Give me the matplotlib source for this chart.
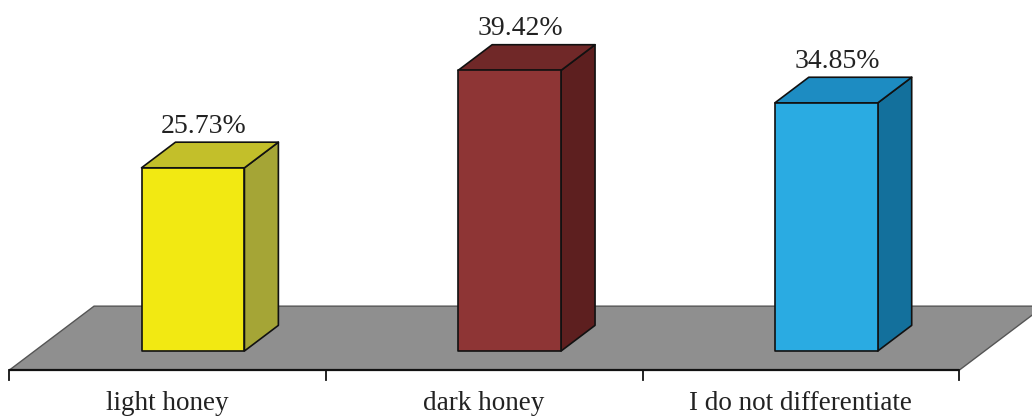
import matplotlib
matplotlib.use("Agg")
import matplotlib.pyplot as plt
from matplotlib.patches import Polygon

categories = ["light honey", "dark honey", "I do not differentiate"]
values = [25.73, 39.42, 34.85]
value_labels = ["25.73%", "39.42%", "34.85%"]

front_colors = ["#F2E912", "#8E3535", "#2AABE2"]
top_colors = ["#C3BF2A", "#702828", "#1D8CC2"]
side_colors = ["#A5A536", "#5D1F1F", "#13709C"]
floor_color = "#8F8F8F"

plt.rcParams["font.family"] = ["Liberation Serif", "DejaVu Serif"]

fig = plt.figure(figsize=(10.32, 4.17), dpi=100)
ax = fig.add_axes([0, 0, 1, 1])
ax.set_xlim(-0.529, 2.73)
ax.set_ylim(-9.27, 49.3)
ax.axis("off")

# oblique depth vector of the floor (full depth) in data units
DX, DY = 0.268, 9.0
d_front, d_back = 0.3, 0.7          # bars occupy this depth slice
half_w = 0.1625


def proj(x, z, d):
    """Oblique projection; z=0 is the floor, bar fronts sit at depth d_front."""
    return (x + d * DX, z + (d - d_front) * DY)


# floor
x0, x1 = -0.5, len(categories) - 0.5
floor = Polygon([proj(x0, 0, 0), proj(x1, 0, 0), proj(x1, 0, 1), proj(x0, 0, 1)],
                closed=True, facecolor=floor_color, edgecolor="#555555",
                linewidth=1.0, zorder=1)
ax.add_patch(floor)
fx0, fz = proj(x0, 0, 0)
fx1, _ = proj(x1, 0, 0)
ax.plot([fx0, fx1], [fz, fz], color="#111111", lw=1.6, zorder=2,
        solid_capstyle="butt")

# category ticks below the floor front edge
for k in range(len(categories) + 1):
    tx, tz = proj(x0 + k, 0, 0)
    ax.plot([tx, tx], [tz, tz - 1.4], color="#111111", lw=1.3, zorder=2)

for i, (v, fc, tc, sc) in enumerate(zip(values, front_colors, top_colors, side_colors)):
    xl, xr = i - half_w, i + half_w
    front = [proj(xl, 0, d_front), proj(xr, 0, d_front),
             proj(xr, v, d_front), proj(xl, v, d_front)]
    side = [proj(xr, 0, d_front), proj(xr, 0, d_back),
            proj(xr, v, d_back), proj(xr, v, d_front)]
    top = [proj(xl, v, d_front), proj(xr, v, d_front),
           proj(xr, v, d_back), proj(xl, v, d_back)]
    for pts, c in ((side, sc), (top, tc), (front, fc)):
        ax.add_patch(Polygon(pts, closed=True, facecolor=c, edgecolor="#111111",
                             linewidth=1.2, joinstyle="round", zorder=3))
    lx, _ = proj(i + 0.035, v, d_front)
    _, ly = proj(i, v + 1.3, d_back)
    ax.text(lx, ly, value_labels[i], ha="center", va="baseline", fontsize=20,
            color="#222222", zorder=4)
    cx, _ = proj(i, 0, 0)
    ax.text(cx, -8.29, categories[i], ha="center", va="baseline",
            fontsize=19.5, color="#222222", zorder=4)

fig.savefig("out.png", dpi=100)
